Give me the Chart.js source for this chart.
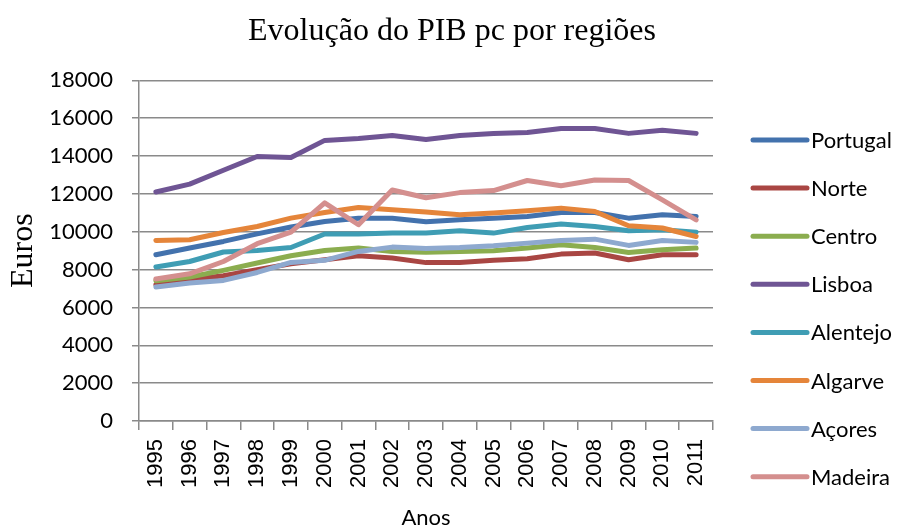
<!DOCTYPE html>
<html lang="pt">
  <head>
    <meta charset="UTF-8" />
    <title>Evolução do PIB pc por regiões</title>
    <script src="https://cdn.jsdelivr.net/npm/chart.js"></script>
    <style>
      html, body { margin: 0; padding: 0; background: #fff; }
    </style>
  </head>
  <body>
    <div style="width: 904px; height: 527px">
      <canvas id="pibChart"></canvas>
    </div>
    <script>
      // anos (eixo x)
      const anos = ["1995", "1996", "1997", "1998", "1999", "2000", "2001", "2002", "2003",
                    "2004", "2005", "2006", "2007", "2008", "2009", "2010", "2011"];
      const regioes = ["Portugal", "Norte", "Centro", "Lisboa", "Alentejo", "Algarve", "Açores", "Madeira"];
      const cores = ["#4372AD", "#A94643", "#8BAD4F", "#6F5594", "#3F9DB4", "#E5853A", "#8EA9CF", "#D48F8E"];

      // PIB per capita (euros)
      const portugal = [8790, 9140, 9490, 9890, 10250, 10540, 10720, 10720, 10530, 10630, 10720, 10810, 11020, 11020, 10720, 10900, 10810];
      const norte    = [7200, 7470, 7680, 8000, 8310, 8520, 8730, 8610, 8370, 8380, 8490, 8570, 8820, 8880, 8520, 8790, 8790];
      const centro   = [7410, 7610, 7960, 8350, 8730, 9010, 9140, 8960, 8920, 8960, 9000, 9140, 9310, 9170, 8910, 9050, 9140];
      const lisboa   = [12100, 12520, 13250, 13980, 13930, 14830, 14930, 15090, 14880, 15090, 15200, 15250, 15460, 15460, 15200, 15360, 15200];
      const alentejo = [8140, 8430, 8930, 9010, 9170, 9880, 9880, 9930, 9930, 10050, 9930, 10230, 10410, 10280, 10050, 10110, 9980];
      const algarve  = [9540, 9580, 9960, 10280, 10720, 11020, 11280, 11160, 11050, 10900, 10990, 11110, 11250, 11070, 10320, 10200, 9750];
      const acores   = [7080, 7290, 7430, 7850, 8380, 8490, 8960, 9190, 9120, 9170, 9260, 9400, 9540, 9610, 9280, 9540, 9440];
      const madeira  = [7500, 7780, 8430, 9370, 9980, 11530, 10370, 12210, 11800, 12070, 12180, 12710, 12430, 12740, 12710, 11690, 10630];

      const series = [portugal, norte, centro, lisboa, alentejo, algarve, acores, madeira];
      const yTicks = [0, 2000, 4000, 6000, 8000, 10000, 12000, 14000, 16000, 18000];

      const cinza = "#8a8a8a";

      const datasets = series.map((valores, i) => ({
        label: regioes[i],
        data: valores,
        borderColor: cores[i],
        backgroundColor: cores[i],
        borderWidth: 5,
        borderCapStyle: "round",
        borderJoinStyle: "round",
        pointRadius: 0,
        tension: 0,
        order: -i, // a última série fica por cima, como no Excel
      }));

      // legenda desenhada à direita
      const legendaDireita = {
        id: "legendaDireita",
        afterDraw(chart) {
          const ctx = chart.ctx;
          ctx.save();
          ctx.font = "22px Lato";
          ctx.textBaseline = "middle";
          ctx.textAlign = "left";
          chart.data.datasets.forEach((ds, i) => {
            const y = 140 + i * 48.1;
            ctx.strokeStyle = ds.borderColor;
            ctx.lineWidth = 5;
            ctx.lineCap = "round";
            ctx.beginPath();
            ctx.moveTo(753, y);
            ctx.lineTo(807, y);
            ctx.stroke();
            ctx.fillStyle = "#000";
            ctx.fillText(ds.label, 811, y + 1);
          });
          ctx.restore();
        },
      };

      const ctx = document.getElementById("pibChart").getContext("2d");
      new Chart(ctx, {
        type: "line",
        data: { labels: anos, datasets: datasets },
        options: {
          responsive: true,
          maintainAspectRatio: false,
          animation: false,
          layout: { padding: 0 },
          plugins: {
            legend: { display: false },
            tooltip: { enabled: false },
            title: {
              display: true,
              text: "Evolução do PIB pc por regiões",
              color: "#000",
              font: { family: "Liberation Serif", size: 32, weight: "normal", lineHeight: 1.2 },
              padding: { top: 12, bottom: 30 },
            },
          },
          scales: {
            x: {
              offset: true,
              grid: { offset: true, drawOnChartArea: false, color: cinza, lineWidth: 1.5, tickLength: 9 },
              border: { color: cinza, width: 1.5 },
              ticks: {
                color: "#000",
                font: { family: "Liberation Sans", size: 22 },
                minRotation: 90,
                maxRotation: 90,
                padding: 9,
                autoSkip: false,
              },
              title: {
                display: true,
                text: "Anos",
                color: "#000",
                font: { family: "Lato", size: 22, lineHeight: 1 },
                padding: { top: 0, bottom: -2 },
              },
              afterFit(scale) { scale.height = 106; },
            },
            y: {
              min: 0,
              max: 18000,
              afterBuildTicks(scale) { scale.ticks = yTicks.map((v) => ({ value: v })); },
              grid: { color: cinza, lineWidth: 1.5, tickLength: 7 },
              border: { color: cinza, width: 1.5 },
              ticks: {
                color: "#000",
                font: { family: "Lato", size: 22 },
                padding: 19,
                callback: (v) => String(v),
              },
              title: {
                display: true,
                text: "Euros",
                color: "#000",
                font: { family: "Liberation Serif", size: 32, lineHeight: 1.2 },
                padding: { top: 4, bottom: 0 },
              },
              afterFit(scale) { scale.width = 139; },
            },
            // eixo vazio só para reservar o espaço da legenda
            espacoLegenda: {
              type: "linear",
              position: "right",
              grid: { display: false },
              border: { display: false },
              ticks: { display: false },
              afterFit(scale) { scale.width = 191; },
            },
          },
        },
        plugins: [legendaDireita],
      });
    </script>
  </body>
</html>
